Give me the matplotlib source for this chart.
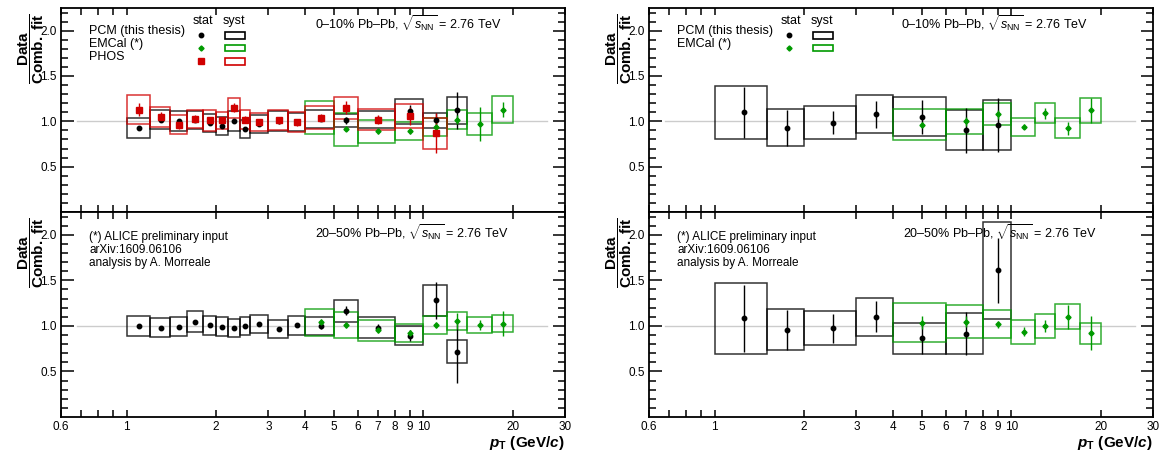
import matplotlib
matplotlib.use('Agg')
import matplotlib.pyplot as plt
from matplotlib.patches import Rectangle

plt.rcParams['font.family'] = ['Liberation Sans', 'DejaVu Sans']
plt.rcParams['mathtext.fontset'] = 'custom'
plt.rcParams['mathtext.rm'] = 'Liberation Sans'
plt.rcParams['mathtext.it'] = 'Liberation Sans:italic'
plt.rcParams['mathtext.bf'] = 'Liberation Sans:bold'
plt.rcParams['mathtext.bfit'] = 'Liberation Sans:italic:bold'

# ---- data: left column (fine binning) ----
edges_pcm_l = [1.0, 1.2, 1.4, 1.6, 1.8, 2.0, 2.2, 2.4, 2.6, 3.0, 3.5, 4.0, 5.0, 6.0, 8.0, 10, 12, 14]
edges_phos_l = [1.0, 1.2, 1.4, 1.6, 1.8, 2.0, 2.2, 2.4, 2.6, 3.0, 3.5, 4.0, 5.0, 6.0, 8.0, 10, 12]
edges_emc = [4, 5, 6, 8, 10, 12, 14, 17, 20]

# 0-10%
pcm_c_l = [0.93, 1.02, 1.00, 1.01, 0.98, 0.95, 1.005, 0.92, 0.97, 1.00, 0.99, 1.03, 1.01, 1.02, 1.11, 1.01, 1.12]
pcm_c_l_syst = [0.11, 0.11, 0.11, 0.10, 0.10, 0.10, 0.11, 0.10, 0.10, 0.11, 0.10, 0.10, 0.07, 0.09, 0.14, 0.08, 0.15]
pcm_c_l_stat = [0.02, 0.03, 0.03, 0.02, 0.02, 0.02, 0.02, 0.02, 0.02, 0.02, 0.03, 0.03, 0.04, 0.04, 0.07, 0.08, 0.20]
phos_c = [1.13, 1.05, 0.965, 1.03, 1.01, 1.01, 1.15, 1.02, 0.99, 1.01, 0.99, 1.04, 1.15, 1.02, 1.06, 0.87]
phos_c_syst = [0.16, 0.11, 0.10, 0.10, 0.12, 0.09, 0.11, 0.10, 0.10, 0.11, 0.11, 0.13, 0.12, 0.12, 0.13, 0.17]
phos_c_stat = [0.07, 0.05, 0.05, 0.04, 0.04, 0.04, 0.05, 0.04, 0.04, 0.04, 0.04, 0.04, 0.07, 0.05, 0.10, 0.22]
emc_c_l = [1.04, 0.91, 0.89, 0.89, 0.94, 1.02, 0.97, 1.13]
emc_c_l_syst = [0.18, 0.18, 0.13, 0.10, 0.10, 0.10, 0.12, 0.15]
emc_c_l_stat = [0.02, 0.02, 0.03, 0.03, 0.05, 0.05, 0.19, 0.08]

# 20-50%
pcm_p_l = [1.00, 0.98, 0.993, 1.048, 1.007, 0.989, 0.98, 1.00, 1.018, 0.963, 1.007, 0.995, 1.165, 0.98, 0.89, 1.28, 0.715]
pcm_p_l_syst = [0.11, 0.105, 0.105, 0.11, 0.105, 0.105, 0.10, 0.10, 0.10, 0.10, 0.105, 0.10, 0.12, 0.115, 0.105, 0.17, 0.125]
pcm_p_l_stat = [0.02, 0.02, 0.02, 0.02, 0.02, 0.02, 0.02, 0.02, 0.02, 0.02, 0.02, 0.03, 0.05, 0.04, 0.06, 0.20, 0.34]
emc_p_l = [1.04, 1.01, 0.95, 0.92, 1.01, 1.055, 1.01, 1.026]
emc_p_l_syst = [0.15, 0.14, 0.12, 0.10, 0.10, 0.10, 0.09, 0.095]
emc_p_l_stat = [0.04, 0.03, 0.03, 0.04, 0.03, 0.09, 0.05, 0.14]

# ---- data: right column (coarse binning) ----
edges_pcm_r = [1.0, 1.5, 2.0, 3.0, 4.0, 6.0, 8.0, 10]
edges_emc_r = [4, 6, 8, 10, 12, 14, 17, 20]

pcm_c_r = [1.10, 0.93, 0.985, 1.077, 1.05, 0.90, 0.96]
pcm_c_r_syst = [0.29, 0.205, 0.185, 0.21, 0.215, 0.22, 0.28]
pcm_c_r_stat = [0.28, 0.20, 0.13, 0.15, 0.19, 0.25, 0.30]
emc_c_r = [0.963, 1.00, 1.077, 0.94, 1.088, 0.923, 1.12]
emc_c_r_syst = [0.17, 0.14, 0.12, 0.10, 0.11, 0.11, 0.14]
emc_c_r_stat = [0.03, 0.05, 0.05, 0.03, 0.06, 0.07, 0.14]

pcm_p_r = [1.084, 0.956, 0.974, 1.10, 0.865, 0.916, 1.61]
pcm_p_r_syst = [0.39, 0.225, 0.185, 0.21, 0.17, 0.225, 0.53]
pcm_p_r_stat = [0.37, 0.22, 0.16, 0.17, 0.17, 0.24, 0.36]
emc_p_r = [1.037, 1.048, 1.018, 0.934, 1.00, 1.10, 0.92]
emc_p_r_syst = [0.21, 0.185, 0.155, 0.13, 0.13, 0.135, 0.115]
emc_p_r_stat = [0.07, 0.06, 0.04, 0.05, 0.07, 0.13, 0.19]

xticks = [0.6, 0.7, 0.8, 0.9, 1, 2, 3, 4, 5, 6, 7, 8, 9, 10, 20, 30]
xticklabels = ['0.6', '', '', '', '1', '2', '3', '4', '5', '6', '7', '8', '9', '10', '20', '30']
notes = ['(*) ALICE preliminary input', 'arXiv:1609.06106', 'analysis by A. Morreale']

black = '#000000'
green = '#009a00'
red = '#d00000'


def draw(ax, edges, vals, syst, stat, col, mk, ms):
    for i in range(len(vals)):
        x0, x1 = edges[i], edges[i + 1]
        ax.add_patch(Rectangle((x0, vals[i] - syst[i]), x1 - x0, 2 * syst[i],
                               fill=False, edgecolor=col, lw=1.1, alpha=0.8, zorder=3))
    xc = [(edges[i] + edges[i + 1]) / 2 for i in range(len(vals))]
    ax.errorbar(xc, vals, yerr=stat, fmt=mk, ms=ms, color=col, mec=col,
                elinewidth=1.0, capsize=0, zorder=5)


def style(ax, bottom):
    ax.set_xscale('log')
    ax.set_xlim(0.6, 30)
    ax.set_ylim(0.0, 2.25)
    ax.plot([0.68, 26], [1, 1], color='#cccccc', lw=1, zorder=1)
    ax.set_xticks(xticks)
    ax.set_xticks([1, 10], minor=True)
    if bottom:
        ax.set_xticklabels(xticklabels)
    else:
        ax.set_xticklabels([])
    ax.set_xticklabels([], minor=True)
    ax.set_yticks([0.5, 1.0, 1.5, 2.0])
    ax.set_yticklabels(['0.5', '1.0', '1.5', '2.0'])
    ax.set_yticks([0.1 * k for k in range(1, 23)], minor=True)
    ax.tick_params(which='both', direction='in', top=True, right=True, labelsize=8.5, pad=3, width=1.1)
    ax.tick_params(axis='x', which='major', length=5)
    ax.tick_params(axis='x', which='minor', length=9)
    ax.tick_params(axis='y', which='major', length=9)
    ax.tick_params(axis='y', which='minor', length=5)
    for s in ax.spines.values():
        s.set_linewidth(1.3)
    ax.text(-0.06, 0.80, r'$\dfrac{\mathbf{Data}}{\mathbf{Comb.\ fit}}$', transform=ax.transAxes,
            rotation=90, ha='center', va='center', fontsize=11)
    if bottom:
        ax.text(1.0, -0.125, r'$\mathbfit{p}_{\mathbf{T}}\ \mathbf{(GeV/}\mathbfit{c}\mathbf{)}$',
                transform=ax.transAxes, ha='right', va='center', fontsize=11)


def legend(ax, entries):
    ax.text(0.282, 0.936, 'stat', transform=ax.transAxes, ha='center', va='center', fontsize=9)
    ax.text(0.343, 0.936, 'syst', transform=ax.transAxes, ha='center', va='center', fontsize=9)
    ys = [0.887, 0.824, 0.760]
    for k, (name, col, mk, ms) in enumerate(entries):
        y = ys[k]
        ax.text(0.0556, y, name, transform=ax.transAxes, ha='left', va='center', fontsize=9)
        ax.plot([0.278], [y - 0.02], marker=mk, ms=ms, color=col, transform=ax.transAxes, ls='none')
        ax.add_patch(Rectangle((0.325, y - 0.037), 0.04, 0.033, transform=ax.transAxes,
                               fill=False, edgecolor=col, lw=1.2))


fig = plt.figure(figsize=(11.59, 4.55), dpi=100)
W = 504 / 1159
ax1 = fig.add_axes([61 / 1159, 1 - 212 / 455, W, 204 / 455])
ax2 = fig.add_axes([61 / 1159, 1 - 417 / 455, W, 205 / 455])
ax3 = fig.add_axes([649 / 1159, 1 - 212 / 455, W, 204 / 455])
ax4 = fig.add_axes([649 / 1159, 1 - 417 / 455, W, 205 / 455])

# top left: 0-10%
style(ax1, False)
draw(ax1, edges_pcm_l, pcm_c_l, pcm_c_l_syst, pcm_c_l_stat, black, 'o', 3.2)
draw(ax1, edges_emc, emc_c_l, emc_c_l_syst, emc_c_l_stat, green, 'D', 2.6)
draw(ax1, edges_phos_l, phos_c, phos_c_syst, phos_c_stat, red, 's', 4)
legend(ax1, [('PCM (this thesis)', black, 'o', 3.2), ('EMCal (*)', green, 'D', 2.6), ('PHOS', red, 's', 4)])
ax1.text(0.69, 0.922, r'0–10% Pb–Pb, $\sqrt{s_{\rm NN}}$ = 2.76 TeV', transform=ax1.transAxes,
         ha='center', va='center', fontsize=9)

# bottom left: 20-50%
style(ax2, True)
draw(ax2, edges_pcm_l, pcm_p_l, pcm_p_l_syst, pcm_p_l_stat, black, 'o', 3.2)
draw(ax2, edges_emc, emc_p_l, emc_p_l_syst, emc_p_l_stat, green, 'D', 2.6)
ax2.text(0.696, 0.898, r'20–50% Pb–Pb, $\sqrt{s_{\rm NN}}$ = 2.76 TeV', transform=ax2.transAxes,
         ha='center', va='center', fontsize=9)
for t, y in zip(notes, [0.878, 0.815, 0.751]):
    ax2.text(0.0556, y, t, transform=ax2.transAxes, ha='left', va='center', fontsize=8.5)

# top right: 0-10%
style(ax3, False)
draw(ax3, edges_pcm_r, pcm_c_r, pcm_c_r_syst, pcm_c_r_stat, black, 'o', 3.2)
draw(ax3, edges_emc_r, emc_c_r, emc_c_r_syst, emc_c_r_stat, green, 'D', 2.6)
legend(ax3, [('PCM (this thesis)', black, 'o', 3.2), ('EMCal (*)', green, 'D', 2.6)])
ax3.text(0.686, 0.922, r'0–10% Pb–Pb, $\sqrt{s_{\rm NN}}$ = 2.76 TeV', transform=ax3.transAxes,
         ha='center', va='center', fontsize=9)

# bottom right: 20-50%
style(ax4, True)
draw(ax4, edges_pcm_r, pcm_p_r, pcm_p_r_syst, pcm_p_r_stat, black, 'o', 3.2)
draw(ax4, edges_emc_r, emc_p_r, emc_p_r_syst, emc_p_r_stat, green, 'D', 2.6)
ax4.text(0.696, 0.898, r'20–50% Pb–Pb, $\sqrt{s_{\rm NN}}$ = 2.76 TeV', transform=ax4.transAxes,
         ha='center', va='center', fontsize=9)
for t, y in zip(notes, [0.878, 0.815, 0.751]):
    ax4.text(0.0556, y, t, transform=ax4.transAxes, ha='left', va='center', fontsize=8.5)

fig.savefig('out.png', dpi=100)
